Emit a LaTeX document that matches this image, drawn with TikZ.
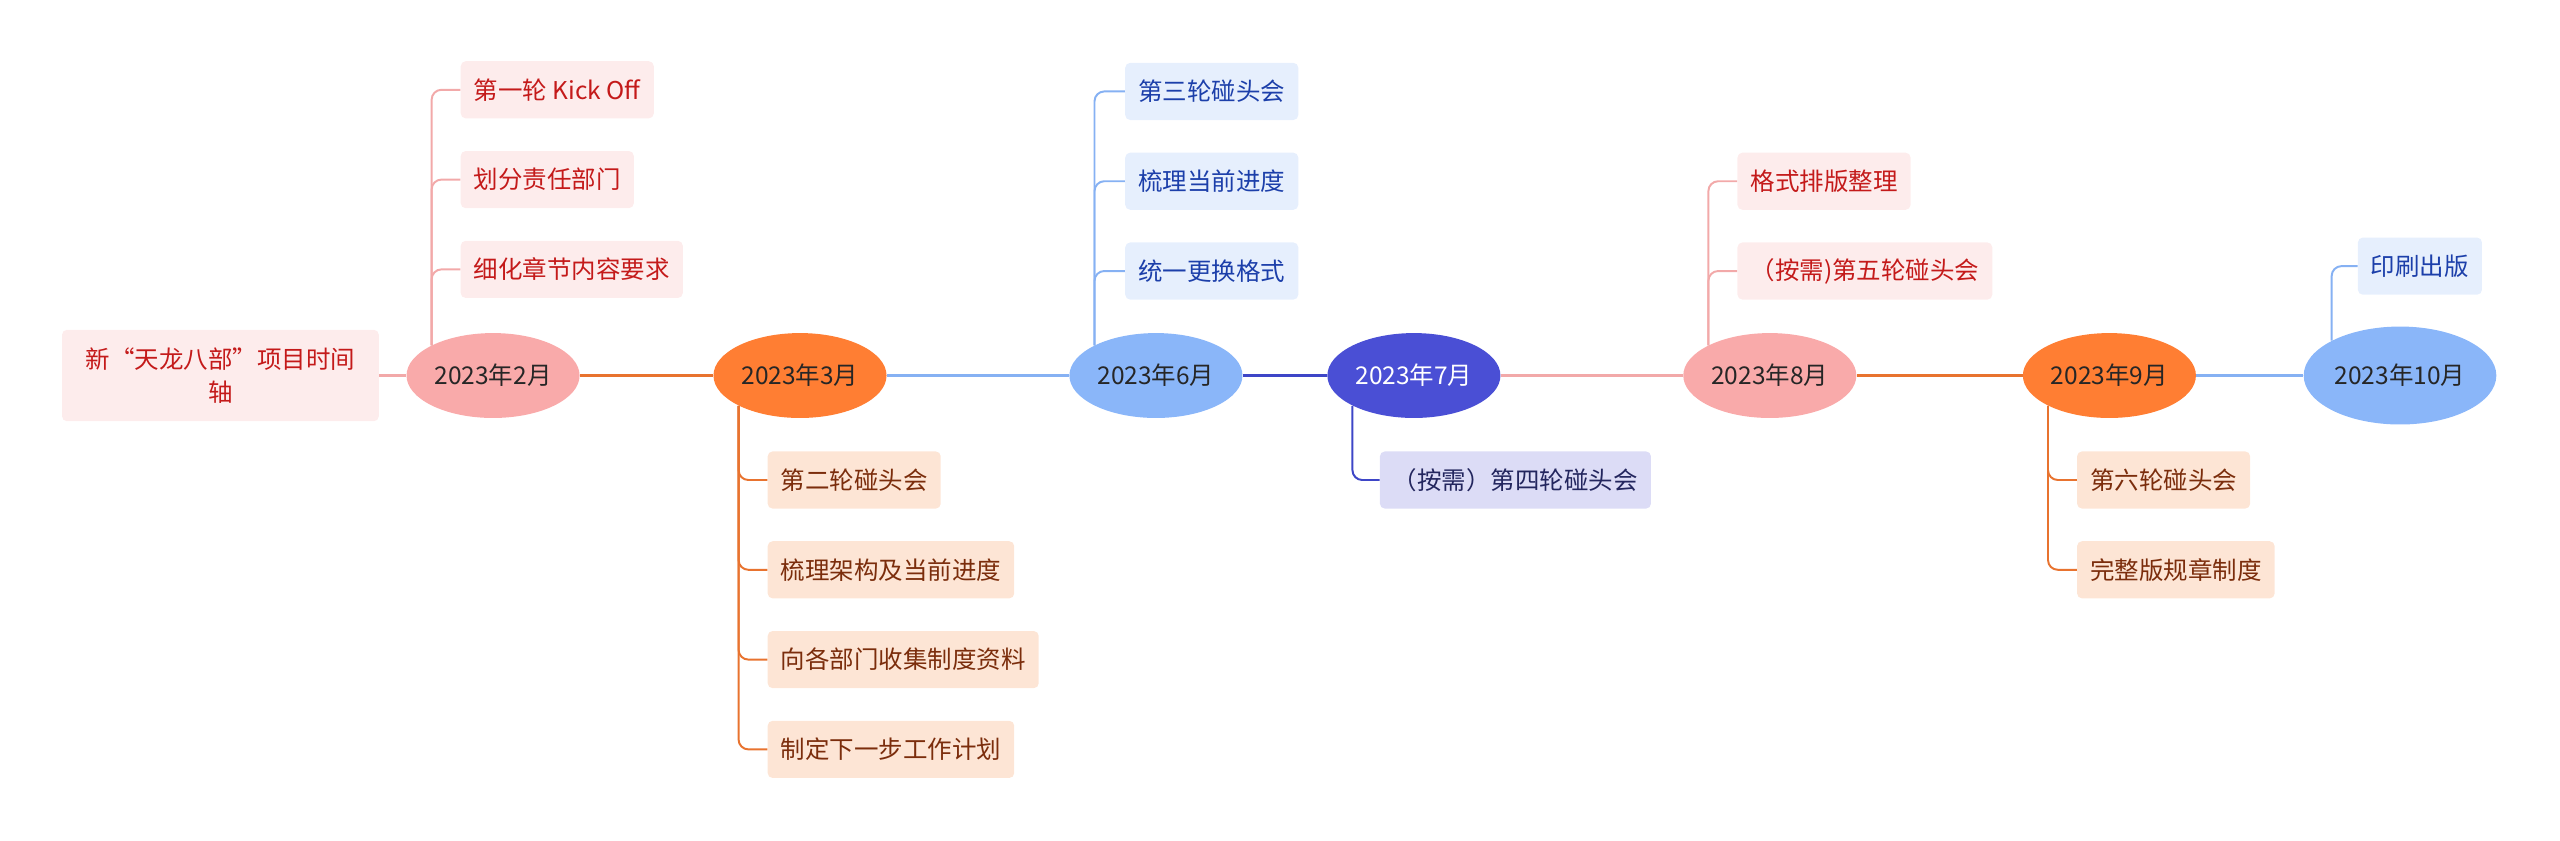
\documentclass[tikz,border=0pt]{standalone}
\usepackage{fontspec}
\usepackage{xcolor}
\usetikzlibrary{shapes.geometric}
\newfontfamily\cjk{Noto Sans CJK SC}

\definecolor{pinkline}{HTML}{F2A9A9}
\definecolor{pinkfill}{HTML}{F9AAAA}
\definecolor{pinkbox}{HTML}{FDECEC}
\definecolor{pinktext}{HTML}{C41A1A}
\definecolor{orangeline}{HTML}{E8732F}
\definecolor{orangefill}{HTML}{FF7E33}
\definecolor{orangebox}{HTML}{FDE5D5}
\definecolor{orangetext}{HTML}{7B2D0C}
\definecolor{blueline}{HTML}{86B1F3}
\definecolor{bluefill}{HTML}{8AB6F9}
\definecolor{bluebox}{HTML}{E6EFFD}
\definecolor{bluetext}{HTML}{1C3FAA}
\definecolor{navyline}{HTML}{3E46C7}
\definecolor{navyfill}{HTML}{4A4FD5}
\definecolor{navybox}{HTML}{DCDCF6}
\definecolor{navytext}{HTML}{23265E}
\definecolor{monthtext}{HTML}{262626}

\tikzset{
    month/.style={ellipse, minimum width=106pt, minimum height=52pt, inner sep=0pt,
        font=\cjk\fontsize{15}{18}\selectfont, text=monthtext},
    leaf/.style={rounded corners=3pt, minimum height=35pt, inner xsep=8pt, anchor=west,
        font=\cjk\fontsize{15}{18}\selectfont},
    axis/.style={line width=1.6pt},
    branch/.style={line width=1.2pt, rounded corners=6pt}
}

\begin{document}
\begin{tikzpicture}[x=1pt,y=-1pt]
                    \useasboundingbox (0,0) rectangle (1568,514.5);

                    % root and months
                    \node[fill=pinkbox, text=pinktext, rounded corners=3pt, minimum width=194pt, minimum height=56pt,
                        align=center, font=\cjk\fontsize{15}{20}\selectfont] (root) at (135,230) {新“天龙八部”项目时间\\轴};
                    \node[month, fill=pinkfill] (feb) at (302,230) {2023年2月};
                    \node[month, fill=orangefill] (mar) at (490,230) {2023年3月};
                    \node[month, fill=bluefill] (jun) at (708,230) {2023年6月};
                    \node[month, fill=navyfill, text=white] (jul) at (866,230) {2023年7月};
                    \node[month, fill=pinkfill] (aug) at (1084,230) {2023年8月};
                    \node[month, fill=orangefill] (sep) at (1292,230) {2023年9月};
                    \node[month, fill=bluefill, minimum width=118pt, minimum height=60pt] (oct) at (1470,230) {2023年10月};

                    \draw[axis, pinkline] (root) -- (feb);
                    \draw[axis, orangeline] (feb) -- (mar);
                    \draw[axis, blueline] (mar) -- (jun);
                    \draw[axis, navyline] (jun) -- (jul);
                    \draw[axis, pinkline] (jul) -- (aug);
                    \draw[axis, orangeline] (aug) -- (sep);
                    \draw[axis, blueline] (sep) -- (oct);

                    % February
                    \node[leaf, fill=pinkbox, text=pinktext] (feba) at (282,55) {第一轮 Kick Off};
                    \node[leaf, fill=pinkbox, text=pinktext] (febb) at (282,110) {划分责任部门};
                    \node[leaf, fill=pinkbox, text=pinktext] (febc) at (282,165) {细化章节内容要求};
                    \draw[branch, pinkline] (feb.north west) |- (feba.west);
                    \draw[branch, pinkline] (feb.north west) |- (febb.west);
                    \draw[branch, pinkline] (feb.north west) |- (febc.west);

                    % March
                    \node[leaf, fill=orangebox, text=orangetext] (mara) at (470,294) {第二轮碰头会};
                    \node[leaf, fill=orangebox, text=orangetext] (marb) at (470,349) {梳理架构及当前进度};
                    \node[leaf, fill=orangebox, text=orangetext] (marc) at (470,404) {向各部门收集制度资料};
                    \node[leaf, fill=orangebox, text=orangetext] (mard) at (470,459) {制定下一步工作计划};
                    \draw[branch, orangeline] (mar.south west) |- (mara.west);
                    \draw[branch, orangeline] (mar.south west) |- (marb.west);
                    \draw[branch, orangeline] (mar.south west) |- (marc.west);
                    \draw[branch, orangeline] (mar.south west) |- (mard.west);

                    % June
                    \node[leaf, fill=bluebox, text=bluetext] (juna) at (689,56) {第三轮碰头会};
                    \node[leaf, fill=bluebox, text=bluetext] (junb) at (689,111) {梳理当前进度};
                    \node[leaf, fill=bluebox, text=bluetext] (junc) at (689,166) {统一更换格式};
                    \draw[branch, blueline] (jun.north west) |- (juna.west);
                    \draw[branch, blueline] (jun.north west) |- (junb.west);
                    \draw[branch, blueline] (jun.north west) |- (junc.west);

                    % July
                    \node[leaf, fill=navybox, text=navytext] (jula) at (845,294) {（按需）第四轮碰头会};
                    \draw[branch, navyline] (jul.south west) |- (jula.west);

                    % August
                    \node[leaf, fill=pinkbox, text=pinktext] (auga) at (1064,111) {格式排版整理};
                    \node[leaf, fill=pinkbox, text=pinktext] (augb) at (1064,166) {（按需)第五轮碰头会};
                    \draw[branch, pinkline] (aug.north west) |- (auga.west);
                    \draw[branch, pinkline] (aug.north west) |- (augb.west);

                    % September
                    \node[leaf, fill=orangebox, text=orangetext] (sepa) at (1272,294) {第六轮碰头会};
                    \node[leaf, fill=orangebox, text=orangetext] (sepb) at (1272,349) {完整版规章制度};
                    \draw[branch, orangeline] (sep.south west) |- (sepa.west);
                    \draw[branch, orangeline] (sep.south west) |- (sepb.west);

                    % October
                    \node[leaf, fill=bluebox, text=bluetext] (octa) at (1444,163) {印刷出版};
                    \draw[branch, blueline] (oct.north west) |- (octa.west);
\end{tikzpicture}
\end{document}
